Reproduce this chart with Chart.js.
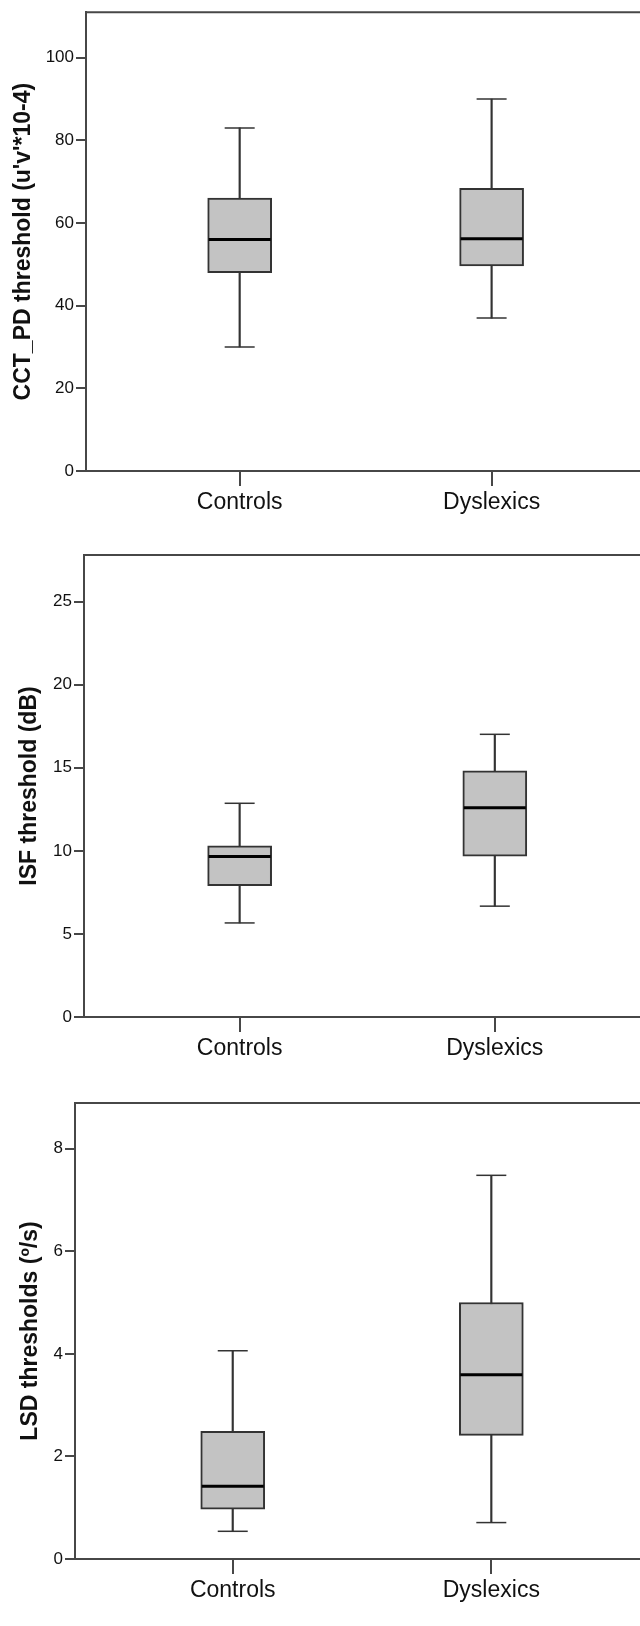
<!DOCTYPE html>
<html>
<head>
<meta charset="utf-8">
<title>Thresholds: Controls vs Dyslexics</title>
<script src="https://cdn.jsdelivr.net/npm/chart.js@4.4.0/dist/chart.umd.min.js"></script>
<style>
    html, body { margin: 0; padding: 0; background: #fff; }
    body { width: 640px; height: 1626px; overflow: hidden; }
    canvas { display: block; }
</style>
</head>
<body>
<canvas id="cctChart" width="640" height="540"></canvas>
<canvas id="isfChart" width="640" height="545"></canvas>
<canvas id="lsdChart" width="640" height="541"></canvas>
<script>
// Groups on the x axis
const categories = ['Controls', 'Dyslexics'];

// CCT_PD threshold (u'v'*10-4)
const cctMin = [30, 37];
const cctQ1 = [48, 49.6];
const cctMedian = [56, 56.2];
const cctQ3 = [66, 68.4];
const cctMax = [83, 90];
const cctTicks = [0, 20, 40, 60, 80, 100];

// ISF threshold (dB)
const isfMin = [5.66, 6.67];
const isfQ1 = [7.91, 9.68];
const isfMedian = [9.66, 12.59];
const isfQ3 = [10.3, 14.82];
const isfMax = [12.86, 17.01];
const isfTicks = [0, 5, 10, 15, 20, 25];

// LSD thresholds (º/s)
const lsdMin = [0.54, 0.71];
const lsdQ1 = [0.97, 2.41];
const lsdMedian = [1.42, 3.59];
const lsdQ3 = [2.49, 5.0];
const lsdMax = [4.06, 7.48];
const lsdTicks = [0, 2, 4, 6, 8];

const FONT = '"Liberation Sans", Arial, sans-serif';
const AXIS_COLOR = '#474747';
const TEXT_COLOR = '#111';

// Chart.js draws only left and bottom axes, add the top edge of the frame
const frameTopPlugin = {
    id: 'frameTop',
    afterDraw(chart) {
        const area = chart.chartArea;
        const ctx = chart.ctx;
        ctx.save();
        ctx.strokeStyle = AXIS_COLOR;
        ctx.lineWidth = 2;
        ctx.beginPath();
        ctx.moveTo(area.left - 1, area.top);
        ctx.lineTo(area.right, area.top);
        ctx.stroke();
        ctx.restore();
    }
};

function toPoints(values) {
    return values.map((v, i) => ({ x: i + 1, y: v }));
}

function drawBoxPlot(canvasId, s) {
    new Chart(document.getElementById(canvasId), {
        type: 'bar',
        data: {
            datasets: [
                {
                    // whisker stems
                    data: s.min.map((v, i) => ({ x: i + 1, y: [v, s.max[i]] })),
                    backgroundColor: '#333',
                    barThickness: 1.5,
                    grouped: false,
                    order: 3
                },
                {
                    // boxes from Q1 to Q3
                    data: s.q1.map((v, i) => ({ x: i + 1, y: [v, s.q3[i]] })),
                    backgroundColor: '#c3c3c3',
                    borderColor: '#333',
                    borderWidth: 2,
                    borderSkipped: false,
                    barThickness: 64,
                    grouped: false,
                    order: 2
                },
                {
                    // medians
                    type: 'line',
                    data: toPoints(s.median),
                    showLine: false,
                    pointStyle: 'line',
                    pointRadius: 31,
                    pointBorderWidth: 3,
                    pointBorderColor: '#000',
                    order: 1
                },
                {
                    // lower caps
                    type: 'line',
                    data: toPoints(s.min),
                    showLine: false,
                    pointStyle: 'line',
                    pointRadius: 15,
                    pointBorderWidth: 1.5,
                    pointBorderColor: '#333',
                    order: 0
                },
                {
                    // upper caps
                    type: 'line',
                    data: toPoints(s.max),
                    showLine: false,
                    pointStyle: 'line',
                    pointRadius: 15,
                    pointBorderWidth: 1.5,
                    pointBorderColor: '#333',
                    order: 0
                }
            ]
        },
        options: {
            responsive: false,
            animation: false,
            devicePixelRatio: 1,
            events: [],
            layout: {
                autoPadding: false,
                padding: { top: s.padTop, left: 0, right: 0, bottom: 0 }
            },
            plugins: {
                legend: { display: false },
                tooltip: { enabled: false }
            },
            scales: {
                x: {
                    type: 'linear',
                    offset: false,
                    min: 0.39,
                    max: s.xMax,
                    afterBuildTicks: scale => {
                        scale.ticks = categories.map((c, i) => ({ value: i + 1 }));
                    },
                    afterFit: scale => { scale.height = s.xHeight; },
                    grid: { offset: false, drawOnChartArea: false, tickLength: 15, color: AXIS_COLOR, lineWidth: 2 },
                    border: { color: AXIS_COLOR, width: 2 },
                    ticks: {
                        callback: (value, index) => categories[index],
                        color: TEXT_COLOR,
                        font: { family: FONT, size: 23 },
                        padding: 3,
                        autoSkip: false,
                        maxRotation: 0
                    }
                },
                y: {
                    min: 0,
                    max: s.yMax,
                    afterBuildTicks: scale => {
                        scale.ticks = s.ticks.map(v => ({ value: v }));
                    },
                    afterFit: scale => { scale.width = s.yWidth; },
                    grid: { drawOnChartArea: false, tickLength: 10, color: AXIS_COLOR, lineWidth: 2 },
                    border: { color: AXIS_COLOR, width: 2 },
                    ticks: {
                        color: TEXT_COLOR,
                        font: { family: FONT, size: 17 },
                        padding: 2
                    },
                    title: {
                        display: true,
                        text: s.title,
                        color: TEXT_COLOR,
                        font: { family: FONT, size: 23, weight: 'bold' },
                        padding: { top: s.titlePad, bottom: 0 }
                    }
                }
            }
        },
        plugins: [frameTopPlugin]
    });
}

drawBoxPlot('cctChart', {
    min: cctMin, q1: cctQ1, median: cctMedian, q3: cctQ3, max: cctMax,
    ticks: cctTicks, yMax: 111, title: "CCT_PD threshold (u'v'*10-4)",
    padTop: 10, xHeight: 69, yWidth: 86, xMax: 2.589, titlePad: 10
});

drawBoxPlot('isfChart', {
    min: isfMin, q1: isfQ1, median: isfMedian, q3: isfQ3, max: isfMax,
    ticks: isfTicks, yMax: 27.8, title: 'ISF threshold (dB)',
    padTop: 15, xHeight: 68, yWidth: 84, xMax: 2.569, titlePad: 16
});

drawBoxPlot('lsdChart', {
    min: lsdMin, q1: lsdQ1, median: lsdMedian, q3: lsdQ3, max: lsdMax,
    ticks: lsdTicks, yMax: 8.89, title: 'LSD thresholds (º/s)',
    padTop: 18, xHeight: 67, yWidth: 75, xMax: 2.575, titlePad: 17
});
</script>
</body>
</html>
